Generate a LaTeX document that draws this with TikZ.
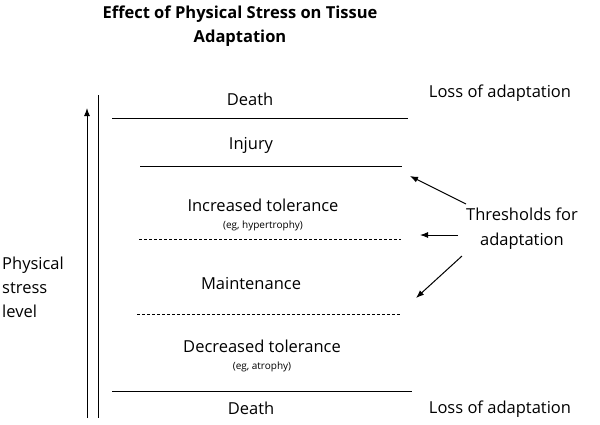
\documentclass[tikz,border=0pt]{standalone}
\usepackage{fontspec}
\setmainfont{Open Sans}
\usetikzlibrary{arrows.meta}
\begin{document}
\begin{tikzpicture}[x=1pt,y=-1pt,
  lbl/.style={font=\fontsize{16.5}{24}\selectfont,inner sep=0pt},
  sml/.style={font=\fontsize{10}{12}\selectfont,inner sep=0pt},
  solidline/.style={line width=1pt},
  dashline/.style={line width=0.8pt,dash pattern=on 3pt off 2pt},
  arr/.style={-{Latex[length=8pt,width=6pt]},line width=1pt}]
\useasboundingbox (0,0) rectangle (600,424);
\node[font=\bfseries\fontsize{16.5}{20}\selectfont,inner sep=0pt] (t1) at (240,14) {Effect of Physical Stress on Tissue};
\node[font=\bfseries\fontsize{16.5}{20}\selectfont,inner sep=0pt] (t2) at (240,38) {Adaptation};
\coordinate (va) at (98,95); \coordinate (vb) at (98,418);
\draw[solidline] (va) -- (vb);
\coordinate (aa) at (87,418); \coordinate (ab) at (87,108);
\draw[arr] (aa) -- (ab);
\coordinate (l1a) at (112,118); \coordinate (l1b) at (408,118);
\draw[solidline] (l1a) -- (l1b);
\coordinate (l2a) at (140,166); \coordinate (l2b) at (402,166);
\draw[solidline] (l2a) -- (l2b);
\coordinate (l3a) at (139,239); \coordinate (l3b) at (401,239);
\draw[dashline] (l3a) -- (l3b);
\coordinate (l4a) at (137,314); \coordinate (l4b) at (401,314);
\draw[dashline] (l4a) -- (l4b);
\coordinate (l5a) at (112,391); \coordinate (l5b) at (412,391);
\draw[solidline] (l5a) -- (l5b);
\node[lbl] (d1) at (250,99) {Death};
\node[lbl] (la1) at (500,93) {Loss of adaptation};
\node[lbl] (inj) at (251,145) {Injury};
\node[lbl] (it) at (263,205) {Increased tolerance};
\node[sml] (ith) at (263,226) {(eg, hypertrophy)};
\node[lbl] (mt) at (251,284) {Maintenance};
\node[lbl] (dt) at (262,346) {Decreased tolerance};
\node[sml] (dta) at (262,367) {(eg, atrophy)};
\node[lbl] (d2) at (251,408) {Death};
\node[lbl] (la2) at (500,409) {Loss of adaptation};
\node[lbl,align=center,font=\fontsize{16.5}{25}\selectfont] (th) at (522,229) {Thresholds for\\adaptation};
\node[lbl,align=left,anchor=west] (psl) at (2,287) {Physical\\stress\\level};
\coordinate (a1s) at (466,204); \coordinate (a1e) at (410,176);
\coordinate (a2s) at (458,235); \coordinate (a2e) at (420,235);
\coordinate (a3s) at (462,256); \coordinate (a3e) at (416,298);
\draw[arr] (a1s) -- (a1e);
\draw[arr] (a2s) -- (a2e);
\draw[arr] (a3s) -- (a3e);
\end{tikzpicture}
\end{document}
